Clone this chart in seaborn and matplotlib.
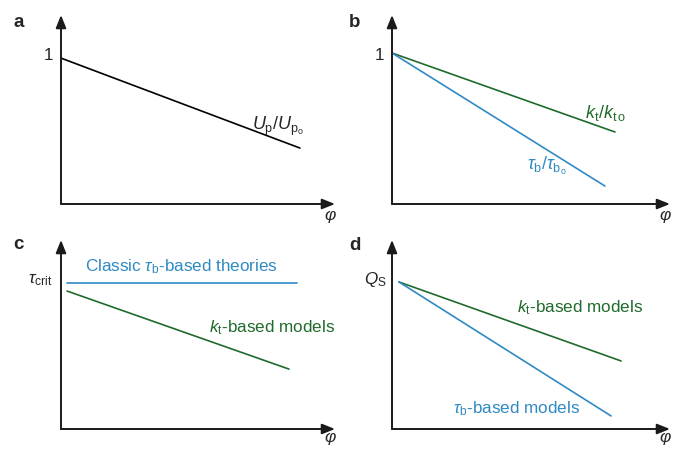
import matplotlib
matplotlib.use("Agg")
import matplotlib.pyplot as plt
import seaborn as sns
import pandas as pd

sns.set_theme(style="white")
plt.rcParams['font.family'] = ['Liberation Sans', 'DejaVu Sans']
plt.rcParams['mathtext.fontset'] = 'custom'
plt.rcParams['mathtext.rm'] = 'Liberation Sans'
plt.rcParams['mathtext.it'] = 'Liberation Sans:italic'
plt.rcParams['mathtext.bf'] = 'Liberation Sans:bold'

GREEN = '#1f6b2c'
BLUE = '#2f8ac4'

# Data (fractions of axis length: phi 0..1, y 0..1)
a_phi = [0.0, 0.872]
a_up = [0.772, 0.296]

b_phi_k = [0.0, 0.802]
b_k = [0.799, 0.381]
b_phi_tau = [0.0, 0.766]
b_tau = [0.799, 0.095]

c_phi_classic = [0.022, 0.861]
c_classic = [0.772, 0.772]
c_phi_k = [0.022, 0.832]
c_k = [0.730, 0.317]

d_phi_k = [0.025, 0.824]
d_k = [0.778, 0.360]
d_phi_tau = [0.025, 0.788]
d_tau = [0.778, 0.069]

W, H = 685, 450
fig = plt.figure(figsize=(W / 100, H / 100), dpi=100)


def make_ax(left, bottom, right, top, phi_y):
    ax = fig.add_axes([left / W, (H - bottom) / H, (right - left) / W, (bottom - top) / H])
    ax.set_xlim(0, 1)
    ax.set_ylim(0, 1)
    ax.set_axis_off()
    arrow = dict(arrowstyle='-|>,head_length=0.55,head_width=0.22', lw=1.4,
                 color='#1a1a1a', shrinkA=0, shrinkB=0, mutation_scale=14)
    ax.annotate('', xy=(1, 0), xytext=(0, 0), xycoords='axes fraction',
                arrowprops=arrow, annotation_clip=False)
    ax.annotate('', xy=(0, 1), xytext=(0, 0), xycoords='axes fraction',
                arrowprops=arrow, annotation_clip=False)
    ax.text(0.985, phi_y, r'$\varphi$', fontsize=12.5, ha='center', va='center',
            transform=ax.transAxes)
    return ax


def line(ax, xs, ys, color):
    df = pd.DataFrame({'phi': xs, 'val': ys})
    sns.lineplot(data=df, x='phi', y='val', ax=ax, color=color, lw=1.2,
                 estimator=None, sort=False)
    ax.set_xlim(0, 1)
    ax.set_ylim(0, 1)
    ax.set_axis_off()


FS = 12.3
LET = 13.5

# Panel a
ax = make_ax(61, 204, 335, 15, -0.068)
line(ax, a_phi, a_up, '#000000')
ax.text(-0.028, 0.788, '1', fontsize=FS, ha='right', va='center')
ax.text(0.697, 0.392, r'$U_\mathrm{p}/U_{\mathrm{p}_\mathrm{o}}$', fontsize=FS + 0.7,
        ha='left', va='baseline')
fig.text(13 / W, (H - 27) / H, 'a', fontsize=LET, fontweight='bold', ha='left', va='baseline')

# Panel b
ax = make_ax(392, 204, 670, 15, -0.068)
line(ax, b_phi_k, b_k, GREEN)
line(ax, b_phi_tau, b_tau, BLUE)
ax.text(-0.028, 0.788, '1', fontsize=FS, ha='right', va='center')
ax.text(0.694, 0.455, r'$k_\mathrm{t}/k_{\mathrm{t\,o}}$', fontsize=FS + 0.7, color=GREEN,
        ha='left', va='baseline')
ax.text(0.486, 0.18, r'$\tau_\mathrm{b}/\tau_{\mathrm{b}_\mathrm{o}}$', fontsize=FS + 0.7, color=BLUE,
        ha='left', va='baseline')
fig.text(349 / W, (H - 27) / H, 'b', fontsize=LET, fontweight='bold', ha='left', va='baseline')

# Panel c
ax = make_ax(61, 429, 335, 240, -0.05)
line(ax, c_phi_classic, c_classic, BLUE)
line(ax, c_phi_k, c_k, GREEN)
ax.text(-0.03, 0.79, r'$\tau_\mathrm{crit}$', fontsize=FS, ha='right', va='center')
ax.text(0.088, 0.836, r'Classic $\tau_\mathrm{b}$-based theories', fontsize=FS, color=BLUE,
        ha='left', va='baseline')
ax.text(0.54, 0.513, r'$k_\mathrm{t}$-based models', fontsize=FS, color=GREEN,
        ha='left', va='baseline')
fig.text(13 / W, (H - 249) / H, 'c', fontsize=LET, fontweight='bold', ha='left', va='baseline')

# Panel d
ax = make_ax(392, 429, 670, 240, -0.05)
line(ax, d_phi_k, d_k, GREEN)
line(ax, d_phi_tau, d_tau, BLUE)
ax.text(-0.018, 0.79, r'$Q_\mathrm{S}$', fontsize=FS, ha='right', va='center')
ax.text(0.45, 0.619, r'$k_\mathrm{t}$-based models', fontsize=FS, color=GREEN,
        ha='left', va='baseline')
ax.text(0.219, 0.085, r'$\tau_\mathrm{b}$-based models', fontsize=FS, color=BLUE,
        ha='left', va='baseline')
fig.text(349 / W, (H - 250) / H, 'd', fontsize=LET, fontweight='bold', ha='left', va='baseline')

fig.savefig('out.png', dpi=100)
